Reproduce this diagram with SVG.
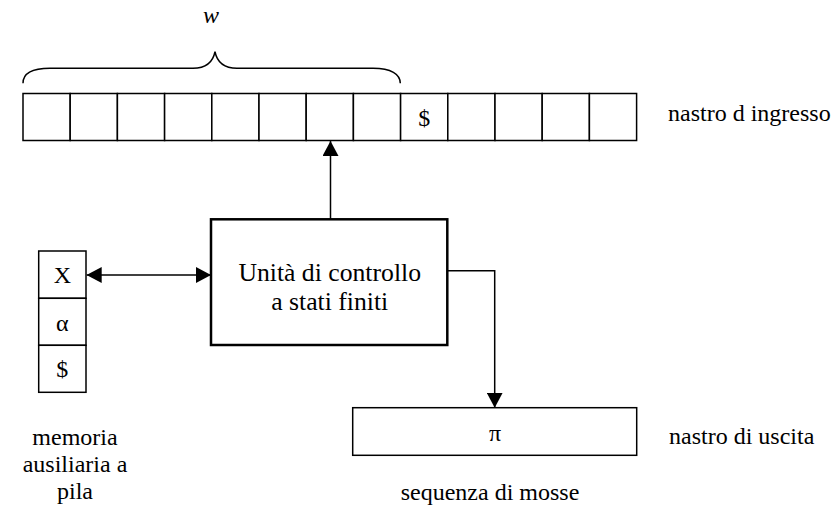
<svg xmlns="http://www.w3.org/2000/svg" width="833" height="516" viewBox="0 0 833 516" font-family="Liberation Serif, Times New Roman, serif" font-size="24">
  <style>
    .sym { text-anchor: middle; }
    .big { font-size: 25.7px; }
    .cell { fill: #fff; stroke: #000; stroke-width: 1.5; }
    .unit { fill: #fff; stroke: #000; stroke-width: 2.5; }
    .wire { fill: none; stroke: #000; stroke-width: 1.5; }
  </style>
  <defs>
    <marker id="head" viewBox="0 0 15 16" refX="15" refY="8" markerWidth="15" markerHeight="16" markerUnits="userSpaceOnUse" orient="auto-start-reverse">
      <path d="M0,0 L15,8 L0,16 Z" fill="#000"/>
    </marker>
  </defs>

  <rect width="833" height="516" fill="#fff"/>

  <!-- brace over the input word -->
  <g id="word">
    <path class="wire" d="M23,83.3 C23,74 32,68.3 50,68.3 L193,68.3 C207,68.3 213,62 215,51.7 C217,62 223,68.3 237,68.3 L373,68.3 C391,68.3 400.3,74 400.3,83.3"/>
    <text x="211" y="23" class="sym" font-style="italic">w</text>
  </g>

  <!-- input tape: 13 cells -->
  <g id="input-tape">
    <rect class="cell" x="23" y="93.5" width="47.2" height="47"/>
    <rect class="cell" x="70.2" y="93.5" width="47.2" height="47"/>
    <rect class="cell" x="117.4" y="93.5" width="47.2" height="47"/>
    <rect class="cell" x="164.6" y="93.5" width="47.2" height="47"/>
    <rect class="cell" x="211.8" y="93.5" width="47.2" height="47"/>
    <rect class="cell" x="259" y="93.5" width="47.2" height="47"/>
    <rect class="cell" x="306.2" y="93.5" width="47.2" height="47"/>
    <rect class="cell" x="353.4" y="93.5" width="47.2" height="47"/>
    <rect class="cell" x="400.6" y="93.5" width="47.2" height="47"/>
    <rect class="cell" x="447.8" y="93.5" width="47.2" height="47"/>
    <rect class="cell" x="495" y="93.5" width="47.2" height="47"/>
    <rect class="cell" x="542.2" y="93.5" width="47.2" height="47"/>
    <rect class="cell" x="589.4" y="93.5" width="47.2" height="47"/>
    <text x="424.2" y="126" class="sym">$</text>
    <text x="668" y="121">nastro d ingresso</text>
  </g>

  <!-- stack memory -->
  <g id="stack">
    <rect class="cell" x="38.7" y="251" width="47.3" height="47.3"/>
    <rect class="cell" x="38.7" y="298.3" width="47.3" height="47"/>
    <rect class="cell" x="38.7" y="345.3" width="47.3" height="47"/>
    <text x="62.3" y="283" class="sym">X</text>
    <text x="62.3" y="331" class="sym">α</text>
    <text x="62.3" y="377" class="sym">$</text>
    <text x="75" y="445" class="sym">memoria</text>
    <text x="75" y="472" class="sym">ausiliaria a</text>
    <text x="75" y="499" class="sym">pila</text>
  </g>

  <!-- finite-state control unit -->
  <g id="control">
    <rect class="unit" x="211" y="219.3" width="236.3" height="125.7"/>
    <text x="329.7" y="281" class="sym big">Unità di controllo</text>
    <text x="329.7" y="310" class="sym big">a stati finiti</text>
  </g>

  <!-- output tape -->
  <g id="output-tape">
    <rect class="cell" x="352.7" y="407.7" width="284" height="47.6"/>
    <text x="495" y="441" class="sym">π</text>
    <text x="669" y="443.5">nastro di uscita</text>
    <text x="490" y="500" class="sym">sequenza di mosse</text>
  </g>

  <!-- connectors -->
  <g id="connectors">
    <path class="wire" d="M330.5,219.3 L330.5,141" marker-end="url(#head)"/>
    <path class="wire" d="M86.7,275 L211,275" marker-start="url(#head)" marker-end="url(#head)"/>
    <path class="wire" d="M447.3,270.7 L494.7,270.7 L494.7,407.7" marker-end="url(#head)"/>
  </g>
</svg>
